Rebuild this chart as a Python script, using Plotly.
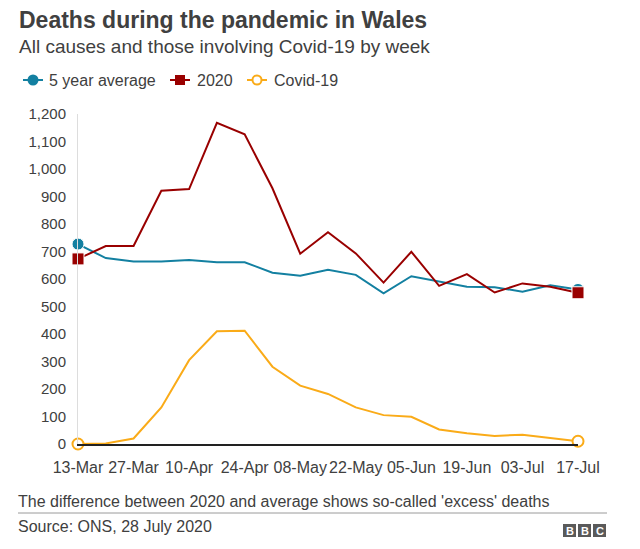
import plotly.graph_objects as go

weeks = ["13-Mar", "20-Mar", "27-Mar", "03-Apr", "10-Apr", "17-Apr", "24-Apr", "01-May",
         "08-May", "15-May", "22-May", "29-May", "05-Jun", "12-Jun", "19-Jun", "26-Jun",
         "03-Jul", "10-Jul", "17-Jul"]
avg5 = [727, 676, 664, 664, 669, 661, 661, 623, 612, 634, 615, 548, 610, 590, 572, 570, 554, 577, 562]
y2020 = [673, 720, 720, 921, 927, 1168, 1126, 930, 692, 770, 693, 587, 699, 575, 618, 551, 584, 572, 550]
covid = [0, 2, 20, 133, 305, 410, 412, 281, 212, 182, 133, 105, 99, 53, 39, 29, 34, 22, 10]
series_names = ["5 year average", "2020", "Covid-19"]
tick_labels = weeks[::2]
y_ticks = list(range(0, 1201, 100))

BLUE = "#1380A1"
RED = "#990000"
YELLOW = "#FAAB18"
TXT = "#404040"
FONT = "Liberation Sans, Arial, sans-serif"

OFF = 8  # page body margin
W, H = 640 - OFF, 549 - OFF
L, T = 78 - OFF, 114 - OFF
R, B = W - (578 - OFF), H - (444 - OFF)
PW, PH = W - L - R, H - T - B


def px(x):
    return (x - OFF - L) / PW


def py(y):
    return (H - B - (y - OFF)) / PH


def end_sizes(n, s):
    return [s] + [0] * (n - 2) + [s]


fig = go.Figure()
n = len(weeks)
fig.add_trace(go.Scatter(x=weeks, y=avg5, mode="lines+markers", name=series_names[0],
                         showlegend=False, line=dict(color=BLUE, width=2),
                         marker=dict(color=BLUE, size=end_sizes(n, 12), symbol="circle",
                                     opacity=1),
                         cliponaxis=False))
fig.add_trace(go.Scatter(x=weeks, y=y2020, mode="lines+markers", name=series_names[1],
                         showlegend=False, line=dict(color=RED, width=2),
                         marker=dict(color=RED, size=end_sizes(n, 12), symbol="square",
                                     opacity=1),
                         cliponaxis=False))
fig.add_trace(go.Scatter(x=weeks, y=covid, mode="lines+markers", name=series_names[2],
                         showlegend=False, line=dict(color=YELLOW, width=2),
                         marker=dict(color="white", size=end_sizes(n, 11), symbol="circle",
                                     opacity=1, line=dict(color=YELLOW, width=2)),
                         cliponaxis=False))

annotations = [
    dict(text="<b>Deaths during the pandemic in Wales</b>", x=px(17), y=py(20),
         font=dict(size=23, color=TXT, family=FONT)),
    dict(text="All causes and those involving Covid-19 by week", x=px(17), y=py(46),
         font=dict(size=19, color=TXT, family=FONT)),
    dict(text="The difference between 2020 and average shows so-called 'excess' deaths",
         x=px(16), y=py(501), font=dict(size=16, color=TXT, family=FONT)),
    dict(text="Source: ONS, 28 July 2020", x=px(16), y=py(526),
         font=dict(size=16, color=TXT, family=FONT)),
]

shapes = [dict(type="line", xref="paper", yref="paper", x0=px(18), x1=px(607),
               y0=py(513), y1=py(513), line=dict(color="#9a9a9a", width=1))]

# hand-drawn legend (symbol line + marker + label)
LEG_Y = 80
legend_items = [
    (series_names[0], BLUE, "circle", BLUE, 23, 47, 11),
    (series_names[1], RED, "rect", RED, 170, 195, 10),
    (series_names[2], YELLOW, "circle", "white", 247, 272, 9),
]
for name, col, sym, fill, x0, tx, sz in legend_items:
    shapes.append(dict(type="line", xref="paper", yref="paper", x0=px(x0), x1=px(x0 + 20),
                       y0=py(LEG_Y), y1=py(LEG_Y), line=dict(color=col, width=2)))
    cx = x0 + 10
    h = sz / 2
    shapes.append(dict(type="circle" if sym == "circle" else "rect", xref="paper", yref="paper",
                       x0=px(cx - h), x1=px(cx + h), y0=py(LEG_Y + h), y1=py(LEG_Y - h),
                       fillcolor=fill, line=dict(color=col, width=2 if fill == "white" else 0)))
    annotations.append(dict(text=name, x=px(tx), y=py(LEG_Y),
                            font=dict(size=16, color=TXT, family=FONT)))

for a in annotations:
    a.update(xref="paper", yref="paper", xanchor="left", yanchor="middle", showarrow=False)

for i, letter in enumerate("BBC"):
    x0 = 563 + i * 15
    shapes.append(dict(type="rect", xref="paper", yref="paper", x0=px(x0), x1=px(x0 + 13),
                       y0=py(537), y1=py(524), fillcolor="#5a5a5a", line=dict(width=0)))
    annotations.append(dict(text="<b>%s</b>" % letter, xref="paper", yref="paper",
                            x=px(x0 + 6.5), y=py(530.5), xanchor="center", yanchor="middle",
                            showarrow=False, font=dict(size=11, color="white", family=FONT)))

fig.update_layout(
    width=W, height=H,
    margin=dict(l=L, r=R, t=T, b=B),
    paper_bgcolor="white", plot_bgcolor="white",
    font=dict(family=FONT, color=TXT, size=16),
    annotations=annotations, shapes=shapes,
    showlegend=False,
    xaxis=dict(type="category", categoryorder="array", categoryarray=weeks,
               range=[0, len(weeks) - 1], tickvals=tick_labels, ticktext=tick_labels,
               tickangle=0,
               showgrid=False, zeroline=False, showline=True, linecolor="#222222",
               linewidth=2, ticks="", tickfont=dict(size=16, color=TXT), ticklabelstandoff=8),
    yaxis=dict(range=[0, 1200], tickvals=y_ticks, tickformat=",", showgrid=False,
               zeroline=False, showline=True, linecolor="#dddddd", linewidth=1, ticks="",
               tickfont=dict(size=15, color=TXT), ticklabelstandoff=8),
)

fig.write_html("out.html")
